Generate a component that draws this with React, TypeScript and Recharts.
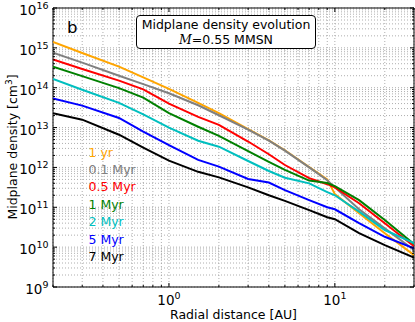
import React from 'react';
import { LineChart, Line, XAxis, YAxis, CartesianGrid, ReferenceArea } from 'recharts';

// ============================================
// Midplane density evolution (log-log)
// ============================================

const W = 415;
const H = 322;
const FONT = '"DejaVu Sans", Verdana, sans-serif';

// radial grid [AU]
const radii = [0.2, 0.3, 0.5, 0.7, 1, 1.5, 2, 3, 4, 5, 7, 9, 10, 14, 20, 30];

// midplane density [cm^-3] per epoch
const yr1 = [1.41e15, 7.41e14, 3.39e14, 1.82e14, 9.33e13, 4.17e13, 2.29e13, 9.12e12, 4.79e12, 2.69e12, 1.02e12, 5.01e11, 2.14e11, 7.08e10, 2.24e10, 6.31e9];
const myr01 = [7.59e14, 4.27e14, 2.0e14, 1.23e14, 7.24e13, 3.63e13, 2.04e13, 8.91e12, 4.68e12, 2.63e12, 1.0e12, 4.79e11, 3.16e11, 8.91e10, 2.95e10, 8.51e9];
const myr05 = [5.13e14, 2.95e14, 1.51e14, 9.12e13, 3.98e13, 1.86e13, 1.17e13, 4.47e12, 2.14e12, 1.15e12, 5.37e11, 3.8e11, 3.16e11, 1.26e11, 3.98e10, 1.05e10];
const myr1 = [3.39e14, 1.95e14, 9.77e13, 5.62e13, 2.29e13, 1.05e13, 6.17e12, 2.57e12, 1.38e12, 8.71e11, 4.68e11, 4.07e11, 3.39e11, 1.51e11, 4.79e10, 1.2e10];
const myr2 = [1.66e14, 8.91e13, 4.17e13, 2.14e13, 1.0e13, 4.68e12, 3.31e12, 1.45e12, 8.13e11, 5.5e11, 3.98e11, 2.4e11, 2.0e11, 7.76e10, 2.69e10, 1.26e10];
const myr5 = [5.37e13, 3.55e13, 1.74e13, 7.94e12, 3.63e12, 1.55e12, 1.05e12, 5.13e11, 4.17e11, 2.69e11, 1.51e11, 1.0e11, 8.91e10, 3.98e10, 1.82e10, 9.33e9];
const myr7 = [2.29e13, 1.58e13, 6.61e12, 3.16e12, 1.48e12, 7.76e11, 5.62e11, 3.16e11, 2.0e11, 1.45e11, 8.51e10, 5.62e10, 5.01e10, 2.24e10, 1.12e10, 5.5e9];

const seriesLabels = ['1 yr', '0.1 Myr', '0.5 Myr', '1 Myr', '2 Myr', '5 Myr', '7 Myr'];
const seriesColors = ['#FFA500', '#808080', '#FF0000', '#008000', '#00BFBF', '#0000FF', '#000000'];
const seriesValues = [yr1, myr01, myr05, myr1, myr2, myr5, myr7];

// tick values (majors get labels)
const xTicks = [0.2, 0.3, 0.4, 0.5, 0.6, 0.7, 0.8, 0.9, 1, 2, 3, 4, 5, 6, 7, 8, 9, 10, 20, 30];
const yTicks = [
  1e9, 2e9, 3e9, 4e9, 5e9, 6e9, 7e9, 8e9, 9e9,
  1e10, 2e10, 3e10, 4e10, 5e10, 6e10, 7e10, 8e10, 9e10,
  1e11, 2e11, 3e11, 4e11, 5e11, 6e11, 7e11, 8e11, 9e11,
  1e12, 2e12, 3e12, 4e12, 5e12, 6e12, 7e12, 8e12, 9e12,
  1e13, 2e13, 3e13, 4e13, 5e13, 6e13, 7e13, 8e13, 9e13,
  1e14, 2e14, 3e14, 4e14, 5e14, 6e14, 7e14, 8e14, 9e14,
  1e15, 2e15, 3e15, 4e15, 5e15, 6e15, 7e15, 8e15, 9e15,
  1e16,
];

const chartData = radii.map((r, i) => {
  const row: Record<string, number> = { r };
  seriesValues.forEach((vals, k) => {
    row[`s${k}`] = vals[i];
  });
  return row;
});

// plot box follows from margins / axis sizes
const MARGIN = { top: 8, right: 1, left: 0, bottom: 0 };
const Y_AXIS_W = 53;
const X_AXIS_H = 35;
const PL = MARGIN.left + Y_AXIS_W;
const PR = W - MARGIN.right;
const PT = MARGIN.top;
const PB = H - X_AXIS_H;

function isMajor(v: number) {
  const e = Math.round(Math.log10(v));
  return Math.abs(v - Math.pow(10, e)) < v * 1e-6;
}

function YTick(props: any) {
  const { y, payload } = props;
  const v = payload.value;
  const major = isMajor(v);
  const len = major ? 4 : 2;
  const e = Math.round(Math.log10(v));
  return (
    <g>
      <line x1={PL} x2={PL + len} y1={y} y2={y} stroke="#000" strokeWidth={1} />
      <line x1={PR} x2={PR - len} y1={y} y2={y} stroke="#000" strokeWidth={1} />
      {major && (
        <text x={48.5} y={y + 7} textAnchor="end" fontSize={13.5} fontFamily={FONT} fill="#000">
          10<tspan dy={-6} fontSize={9.5}>{e}</tspan>
        </text>
      )}
    </g>
  );
}

function XTick(props: any) {
  const { x, payload } = props;
  const v = payload.value;
  const major = isMajor(v);
  const len = major ? 4 : 2;
  const e = Math.round(Math.log10(v));
  return (
    <g>
      <line x1={x} x2={x} y1={PB} y2={PB - len} stroke="#000" strokeWidth={1} />
      <line x1={x} x2={x} y1={PT} y2={PT + len} stroke="#000" strokeWidth={1} />
      {major && (
        <text x={x} y={PB + 18} textAnchor="middle" fontSize={13.5} fontFamily={FONT} fill="#000">
          10<tspan dy={-6} fontSize={9.5}>{e}</tspan>
        </text>
      )}
    </g>
  );
}

export default function App() {
  return (
    <div style={{ position: 'absolute', left: 0, top: 0, width: W, height: H, background: '#fff' }}>
      <LineChart width={W} height={H} data={chartData} margin={MARGIN}>
        <CartesianGrid stroke="#999" strokeDasharray="1 2" strokeWidth={0.8} />
        <XAxis
          dataKey="r"
          type="number"
          scale="log"
          domain={[0.2, 30]}
          allowDataOverflow
          ticks={xTicks}
          interval={0}
          height={X_AXIS_H}
          axisLine={false}
          tickLine={false}
          tick={<XTick />}
        />
        <YAxis
          type="number"
          scale="log"
          domain={[1e9, 1e16]}
          allowDataOverflow
          ticks={yTicks}
          interval={0}
          width={Y_AXIS_W}
          axisLine={false}
          tickLine={false}
          tick={<YTick />}
        />
        {seriesValues.map((_, k) => (
          <Line
            key={k}
            dataKey={`s${k}`}
            type="linear"
            stroke={seriesColors[k]}
            strokeWidth={2}
            dot={false}
            isAnimationActive={false}
          />
        ))}
        <ReferenceArea x1={0.2} x2={30} y1={1e9} y2={1e16} fill="none" stroke="#000" strokeWidth={1} ifOverflow="visible" />
      </LineChart>

      {/* Text overlay: panel letter, title box, inline legend, axis labels */}
      <svg width={W} height={H} style={{ position: 'absolute', left: 0, top: 0, pointerEvents: 'none' }} fontFamily={FONT}>
        <text x={67} y={33} fontSize={16.5} fill="#000">b</text>
        <rect x={136.5} y={15.5} width={179} height={33} rx={3.5} fill="#fff" stroke="#000" strokeWidth={1} />
        <text x={226} y={29} textAnchor="middle" fontSize={12.5} fill="#000">Midplane density evolution</text>
        <text x={226} y={43.5} textAnchor="middle" fontSize={12.5} fill="#000">
          <tspan fontStyle="italic" fontFamily='"DejaVu Serif", serif'>M</tspan>=0.55 MMSN
        </text>
        {seriesLabels.map((label, k) => (
          <text key={label} x={88.5} y={156.5 + k * 17.4} fontSize={12.5} fill={seriesColors[k]}>
            {label}
          </text>
        ))}
        <text x={233.5} y={318.5} textAnchor="middle" fontSize={12.5} fill="#000">Radial distance [AU]</text>
        <text
          x={0}
          y={0}
          transform="translate(16.5,147) rotate(-90)"
          textAnchor="middle"
          fontSize={12.5}
          fill="#000"
        >
          Midplane density [cm<tspan dy={-5} fontSize={9}>3</tspan><tspan dy={5}>]</tspan>
        </text>
      </svg>
    </div>
  );
}
